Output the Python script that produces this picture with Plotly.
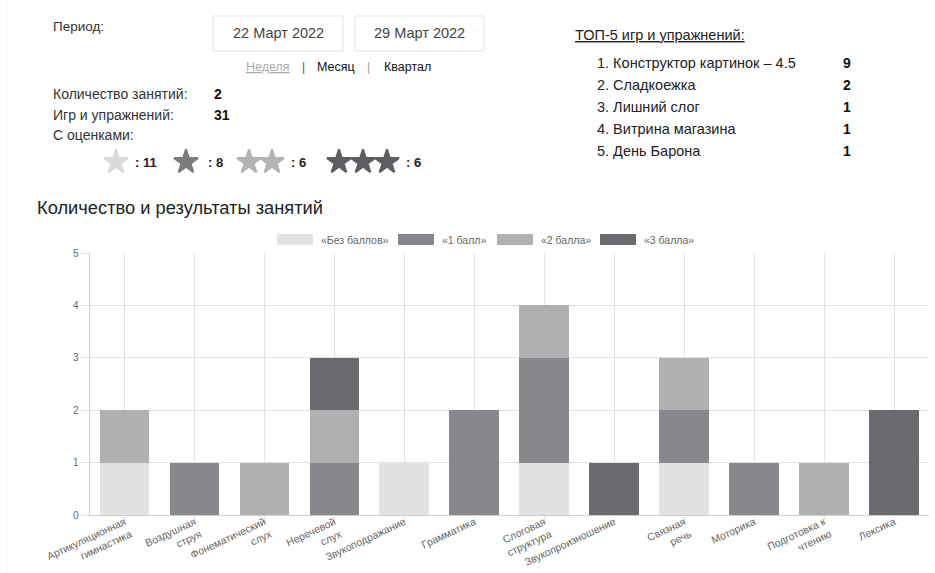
import plotly.graph_objects as go

W, H = 935, 573
FONT = "Liberation Sans, Arial, sans-serif"

# ---------------- data ----------------
categories = [
    "Артикуляционная<br>гимнастика", "Воздушная<br>струя", "Фонематический<br>слух",
    "Неречевой<br>слух", "Звукоподражание", "Грамматика", "Слоговая<br>структура",
    "Звукопроизношение", "Связная<br>речь", "Моторика", "Подготовка к<br>чтению", "Лексика",
]
series_names = ["«Без баллов»", "«1 балл»", "«2 балла»", "«3 балла»"]
series_colors = ["#e3e1e3", "#88878b", "#b0afb2", "#6b6a6e"]
no_points = [1, 0, 0, 0, 1, 0, 1, 0, 1, 0, 0, 0]
one_point = [0, 1, 0, 1, 0, 2, 2, 0, 1, 1, 0, 0]
two_points = [1, 0, 1, 1, 0, 0, 1, 0, 1, 0, 1, 0]
three_points = [0, 0, 0, 1, 0, 0, 0, 1, 0, 0, 0, 2]
series_values = [no_points, one_point, two_points, three_points]
y_ticks = [0, 1, 2, 3, 4, 5]

period_from = "22 Март 2022"
period_to = "29 Март 2022"
sessions = 2
games = 31
star_counts = [11, 8, 6, 6]
top5_names = ["1. Конструктор картинок – 4.5", "2. Сладкоежка", "3. Лишний слог",
              "4. Витрина магазина", "5. День Барона"]
top5_values = [9, 2, 1, 1, 1]


def px(x):
    return x / W


def py(y):
    return 1 - y / H


fig = go.Figure()

for name, color, vals in zip(series_names, series_colors, series_values):
    fig.add_trace(go.Bar(
        x=categories, y=vals, name=name, marker=dict(color=color, line=dict(width=0)),
        showlegend=False, hoverinfo="x+y+name",
    ))

annotations = []
shapes = []


def ann(x, y, text, size=14, color="#333", anchor="left", ya="middle"):
    annotations.append(dict(
        x=px(x), y=py(y), xref="paper", yref="paper", text=text, showarrow=False,
        xanchor=anchor, yanchor=ya, font=dict(size=size, color=color, family=FONT),
    ))


# ---------- header ----------
ann(51, 27, "Период:", 13.5)
for x0, x1, txt in [(213, 343, period_from), (355, 484, period_to)]:
    shapes.append(dict(type="rect", xref="paper", yref="paper",
                       x0=px(x0), x1=px(x1), y0=py(51), y1=py(16),
                       line=dict(color="#e3e3e3", width=1), fillcolor="white"))
    ann((x0 + x1) / 2, 33, txt, 14.5, "#444", "center")

ann(268, 67, "<u>Неделя</u>", 12.5, "#aaaaaa", "center")
ann(303, 67, "|", 12, "#555", "center")
ann(336, 67, "Месяц", 12.5, "#111", "center")
ann(368, 67, "|", 12, "#999", "center")
ann(407, 67, "Квартал", 12.5, "#111", "center")

ann(51, 94, "Количество занятий:", 14)
ann(212, 94, f"<b>{sessions}</b>", 14, "#111")
ann(51, 115, "Игр и упражнений:", 14)
ann(212, 115, f"<b>{games}</b>", 14, "#111")
ann(51, 135, "С оценками:", 14)

# stars
star_groups = [
    ([116], "#d9d9d9", 133, star_counts[0]),
    ([186], "#7c7b7e", 206, star_counts[1]),
    ([249, 272], "#b3b2b5", 289, star_counts[2]),
    ([339, 363, 387], "#5e5d61", 404, star_counts[3]),
]
for xs, col, tx, cnt in star_groups:
    fig.add_trace(go.Scatter(
        x=xs, y=[162] * len(xs), xaxis="x2", yaxis="y2", mode="markers",
        marker=dict(symbol="star", size=18, color=col, line=dict(width=2, color=col)),
        showlegend=False, hoverinfo="skip",
    ))
    ann(tx, 163, f"<b>: {cnt}</b>", 13, "#222")

ann(573, 35, "<u>ТОП-5 игр и упражнений:</u>", 14.5, "#222")
for i, (nm, v) in enumerate(zip(top5_names, top5_values)):
    yy = 63 + i * 22
    ann(595, yy, nm, 14.5, "#222")
    ann(853, yy, f"<b>{v}</b>", 14, "#111", "right")

# chart title
ann(35, 207, "Количество и результаты занятий", 18.3, "#222")

# manual legend
leg_x = [277, 398, 497, 600]
for lx, name, col in zip(leg_x, series_names, series_colors):
    shapes.append(dict(type="rect", xref="paper", yref="paper",
                       x0=px(lx), x1=px(lx + 36), y0=py(245), y1=py(234),
                       line=dict(width=0), fillcolor=col))
    ann(lx + 42, 239.5, name, 10.5, "#666")

# faint page edge
shapes.append(dict(type="line", xref="paper", yref="paper", x0=px(7), x1=px(7),
                   y0=0, y1=1, line=dict(color="#f0f0f0", width=1)))

fig.update_layout(
    width=W, height=H, margin=dict(l=0, r=0, t=0, b=0, autoexpand=False),
    paper_bgcolor="white", plot_bgcolor="rgba(0,0,0,0)",
    barmode="stack", bargap=0.29,
    font=dict(family=FONT, color="#666"),
    annotations=annotations, shapes=shapes,
    xaxis=dict(
        domain=[px(89.5), px(929)], type="category", automargin=False,
        showgrid=True, gridcolor="#e2e2e2", gridwidth=1,
        showline=True, linecolor="#cfcfcf", linewidth=1,
        ticks="outside", ticklen=8, tickcolor="#e2e2e2", tickwidth=1,
        tickangle=-25, tickfont=dict(size=10.5, color="#666", family=FONT),
        ticklabelstandoff=-12, fixedrange=True,
    ),
    yaxis=dict(
        domain=[py(515), py(253)], range=[0, 5], tickvals=y_ticks, automargin=False,
        showgrid=True, gridcolor="#e2e2e2", gridwidth=1, zeroline=False,
        showline=True, linecolor="#cfcfcf", linewidth=1,
        ticks="outside", ticklen=8, tickcolor="#e2e2e2", tickwidth=1,
        tickfont=dict(size=10, color="#666", family=FONT), fixedrange=True,
    ),
    xaxis2=dict(domain=[0, 1], range=[0, W], visible=False, fixedrange=True,
                anchor="y2", automargin=False),
    yaxis2=dict(domain=[0, 1], range=[H, 0], visible=False, fixedrange=True,
                anchor="x2", automargin=False),
)

fig.write_html("out.html")
